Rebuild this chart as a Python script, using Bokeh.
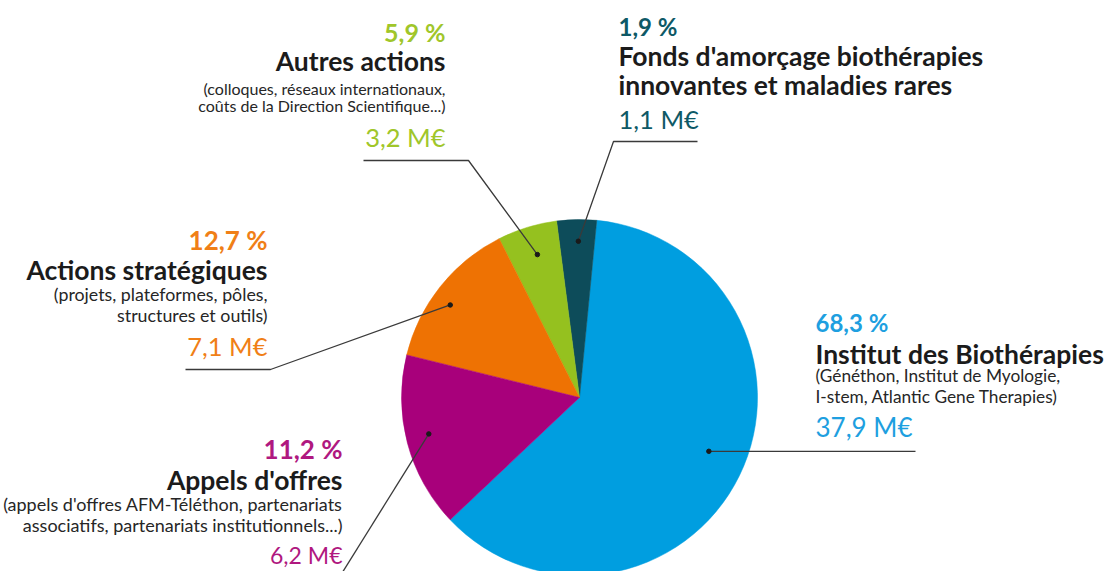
import numpy as np
from bokeh.plotting import figure
from bokeh.models import Range1d
from bokeh.core.properties import value
from bokeh.embed import file_html
from bokeh.resources import INLINE

# ---------------- data ----------------
categories = ["Institut des Biothérapies",
              "Fonds d'amorçage biothérapies|innovantes et maladies rares",
              "Autres actions",
              "Actions stratégiques",
              "Appels d'offres"]
percent_labels = ["68,3 %", "1,9 %", "5,9 %", "12,7 %", "11,2 %"]
amount_labels = ["37,9 M€", "1,1 M€", "3,2 M€", "7,1 M€", "6,2 M€"]
details = ["(Généthon, Institut de Myologie,|I-stem, Atlantic Gene Therapies)",
           "",
           "(colloques, réseaux internationaux,|coûts de la Direction Scientifique...)",
           "(projets, plateformes, pôles,|structures et outils)",
           "(appels d'offres AFM-Téléthon, partenariats|associatifs, partenariats institutionnels...)"]
# slice sizes as drawn in the picture (share of the full circle, %)
drawn_share = [61.4, 3.6, 5.4, 13.7, 15.9]
wedge_colors = ["#009EE0", "#0D4C5A", "#95C11F", "#EE7203", "#A8007B"]
text_colors = ["#1E9FE0", "#0E5966", "#A0C62A", "#F07F17", "#B0187F"]

# ---------------- layout (screen pixels) ----------------
W, H = 1105, 571
TEXT_DY = 9  # renderer places alphabetic baseline a little low; compensate
def Y(sy):
    return H - sy

def YT(sy):
    return H - sy + TEXT_DY

cx, cy, R = 579, Y(397), 178
start_deg = 223.4

# label blocks: anchor x, align, baselines for pct, heading lines, detail lines, amount; font sizes
blocks = [
    dict(x=815, align="left", pct=331, head=[362], det=[384, 405], amt=435, ps=24, ds=17.3, ams=26),
    dict(x=618, align="left", pct=35, head=[64, 93], det=[], amt=127, ps=24, ds=17, ams=25.5),
    dict(x=445, align="right", pct=40, head=[69], det=[97, 114], amt=145, ps=25, ds=16, ams=25.5),
    dict(x=267, align="right", pct=248, head=[278], det=[302, 323], amt=354, ps=26, ds=17.8, ams=25.5),
    dict(x=342, align="right", pct=457, head=[488], det=[512, 533], amt=563, ps=26, ds=18, ams=23),
]
head_size = 26.5
# leader dot: (angle offset from slice middle in degrees, radius fraction)
dot_pos = [(3.5, 0.787), (-0.5, 0.878), (-0.7, 0.837), (2.9, 0.893), (-1.2, 0.871)]
leaders = [
    [(915, None)],
    [(613, 141), (697, 141)],
    [(468, 160), (363, 160)],
    [(270, 369), (185, 369)],
    [(340, 575)],
]

p = figure(width=W, height=H, output_backend="svg", toolbar_location=None,
           x_range=Range1d(0, W), y_range=Range1d(0, H),
           min_border=0, background_fill_color="white", border_fill_color="white")
p.axis.visible = False
p.grid.visible = False
p.outline_line_color = None

share = np.array(drawn_share, dtype=float)
cum = np.concatenate([[0.0], np.cumsum(share)]) / share.sum() * 360.0
starts = np.deg2rad(start_deg + cum[:-1])
ends = np.deg2rad(start_deg + cum[1:])

p.wedge(x=[cx] * len(share), y=[cy] * len(share), radius=R,
        start_angle=list(starts), end_angle=list(ends),
        fill_color=wedge_colors, line_color=wedge_colors, line_width=0.5)

FONT = value("Lato")
for i, b in enumerate(blocks):
    off, frac = dot_pos[i]
    mid = (starts[i] + ends[i]) / 2 + np.deg2rad(off)
    dx = cx + R * frac * np.cos(mid)
    dy = cy + R * frac * np.sin(mid)
    xs, ys = [dx], [dy]
    for (lx, ly) in leaders[i]:
        xs.append(lx)
        ys.append(dy if ly is None else Y(ly))
    p.line(xs, ys, line_color="#3a3a3a", line_width=1.3)
    p.scatter([dx], [dy], size=4.5, color="#1a1a1a")

    al = b["align"]
    p.text([b["x"]], [YT(b["pct"])], text=[percent_labels[i]], text_align=al,
           text_baseline="alphabetic", text_font=FONT, text_font_style="bold",
           text_font_size=f"{b['ps']}px", text_color=text_colors[i])
    for ln, yy in zip(categories[i].split("|"), b["head"]):
        p.text([b["x"]], [YT(yy)], text=[ln], text_align=al,
               text_baseline="alphabetic", text_font=FONT, text_font_style="bold",
               text_font_size=f"{head_size}px", text_color="#1b1b1b")
    if details[i]:
        for ln, yy in zip(details[i].split("|"), b["det"]):
            p.text([b["x"]], [YT(yy)], text=[ln], text_align=al,
                   text_baseline="alphabetic", text_font=FONT,
                   text_font_size=f"{b['ds']}px", text_color="#262626")
    p.text([b["x"]], [YT(b["amt"])], text=[amount_labels[i]], text_align=al,
           text_baseline="alphabetic", text_font=FONT,
           text_font_size=f"{b['ams']}px", text_color=text_colors[i])

open("out.html", "w").write(file_html(p, INLINE))
